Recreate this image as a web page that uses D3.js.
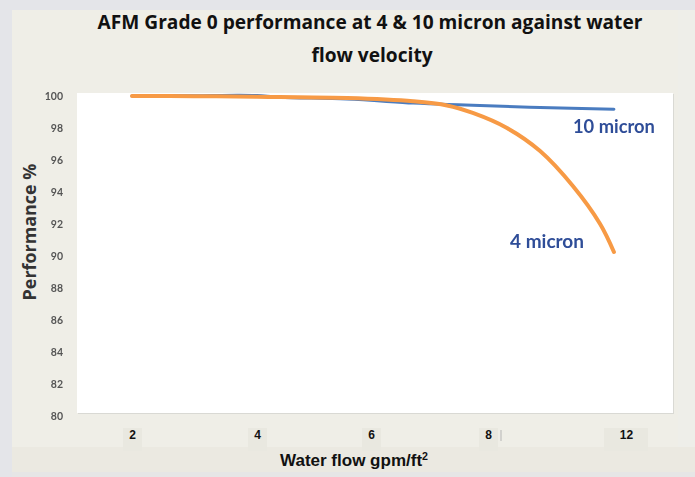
<!DOCTYPE html>
<html><head><meta charset="utf-8">
<script src="https://cdn.jsdelivr.net/npm/d3@7"></script>
<style>body{margin:0;background:#efeee7;} svg{display:block}</style>
</head><body><svg id="c" width="695" height="477"></svg>
<script>
// ---- data ----
const xTicks = [2, 4, 6, 8, 12];
const yTicks = [80, 82, 84, 86, 88, 90, 92, 94, 96, 98, 100];
const flow4  = [2, 3, 4, 4.4, 5.58, 6.72, 7.3, 7.74, 8.55, 9.51, 10.46, 11.25, 11.65];
const perf4  = [100, 99.99, 99.95, 99.93, 99.875, 99.67, 99.41, 98.94, 98.0, 96.56, 94.375, 92.0, 90.25];
const flow10 = [2, 3, 3.7, 4, 4.4, 5.58, 6.72, 7.3, 7.86, 9.51, 11.65];
const perf10 = [100, 100.02, 100.05, 100.03, 99.92, 99.81, 99.56, 99.47, 99.41, 99.28, 99.17];
const titleLines = ["AFM Grade 0 performance at 4 & 10 micron against water", "flow velocity"];
const seriesLabels = ["10 micron", "4 micron"];

const svg = d3.select("#c");
// background panels
svg.append("rect").attr("width",695).attr("height",477).attr("fill","#efeee7");
svg.append("rect").attr("x",0).attr("y",0).attr("width",695).attr("height",10).attr("fill","#e4e5e9");
svg.append("rect").attr("x",0).attr("y",0).attr("width",12).attr("height",477).attr("fill","#e4e5e9");
svg.append("rect").attr("x",12).attr("y",447).attr("width",683).attr("height",30).attr("fill","#ebe9e1");
svg.append("rect").attr("x",12).attr("y",472).attr("width",683).attr("height",5).attr("fill","#e6e6e6");
svg.append("rect").attr("x",678).attr("y",10).attr("width",17).attr("height",437).attr("fill","#eeeee9");

// plot area
const P = {l:77, t:93, r:673, b:413};
svg.append("rect").attr("x",P.l+1).attr("y",P.t+1).attr("width",P.r-P.l).attr("height",P.b-P.t).attr("fill","#d9d9d4");
svg.append("rect").attr("x",P.l).attr("y",P.t).attr("width",P.r-P.l).attr("height",P.b-P.t).attr("fill","#ffffff");

const x = d3.scaleLinear().domain(xTicks).range([132, 257, 371, 488, 626]);
const y = d3.scaleLinear().domain([80, 100]).range([416, 96]);

const defs = svg.append("defs");
defs.append("filter").attr("id","soft").append("feGaussianBlur").attr("stdDeviation",0.45);

// y axis
const ya = svg.append("g").attr("transform","translate(63,0)")
  .call(d3.axisLeft(y).tickValues(yTicks).tickSize(0).tickPadding(0));
ya.select(".domain").remove();
ya.selectAll("text").attr("font-family","Lato, 'Open Sans', sans-serif").attr("font-weight","bold")
  .attr("font-size",10.5).attr("fill","#555").attr("filter","url(#soft)");

// x axis tick label boxes
svg.append("g").selectAll("rect").data(xTicks).join("rect")
  .attr("x", d => x(d) - (d >= 10 ? 22 : 9)).attr("y", 428)
  .attr("width", d => d >= 10 ? 44 : 19).attr("height", 23).attr("fill","#e9e8e0");
const xa = svg.append("g").attr("transform","translate(0,430)")
  .call(d3.axisBottom(x).tickValues(xTicks).tickSize(0).tickPadding(0).tickFormat(d3.format("d")));
xa.select(".domain").remove();
xa.selectAll("text").attr("font-family","'Liberation Sans', Arial, sans-serif").attr("font-weight","bold")
  .attr("font-size",12).attr("fill","#111");
svg.append("line").attr("x1",501).attr("x2",501).attr("y1",430).attr("y2",441).attr("stroke","#b5b5b5").attr("stroke-width",1);

// lines
const line = d3.line().x(d => x(d[0])).y(d => y(d[1])).curve(d3.curveCatmullRom.alpha(0.5));
svg.append("path").datum(d3.zip(flow10, perf10)).attr("d", line)
  .attr("fill","none").attr("stroke","#4a7cc0").attr("stroke-width",3).attr("stroke-linecap","round");
svg.append("path").datum(d3.zip(flow4, perf4)).attr("d", line)
  .attr("fill","none").attr("stroke","#f79a45").attr("stroke-width",4).attr("stroke-linecap","round");

function fit(sel, w){ const n = sel.node(); const cur = n.getComputedTextLength(); const fs = +sel.attr("font-size"); sel.attr("font-size", fs*w/cur); }

// series labels
const lab = svg.append("g").attr("font-family","Lato, 'Open Sans', sans-serif").attr("fill","#2f4d98")
  .attr("font-weight","bold").attr("filter","url(#soft)");
const l1 = lab.append("text").attr("x",573).attr("y",133).attr("font-size",17).text(seriesLabels[0]);
fit(l1, 82);
const l2 = lab.append("text").attr("x",510).attr("y",248).attr("font-size",17).text(seriesLabels[1]);
fit(l2, 74);

// title
const t1 = svg.append("text").attr("x",370).attr("y",29).attr("text-anchor","middle")
  .attr("font-family","'Open Sans', sans-serif").attr("font-weight","bold").attr("font-size",16).attr("fill","#111").text(titleLines[0]);
fit(t1, 545);
const t2 = svg.append("text").attr("x",372).attr("y",62).attr("text-anchor","middle")
  .attr("font-family","'Open Sans', sans-serif").attr("font-weight","bold").attr("font-size",16).attr("fill","#111").text(titleLines[1]);
t2.attr("font-size", t1.attr("font-size"));

// axis titles
const yt = svg.append("text").attr("transform","translate(36,232) rotate(-90)").attr("text-anchor","middle")
  .attr("font-family","'Open Sans', sans-serif").attr("font-weight","bold").attr("font-size",14).attr("fill","#333").text("Performance %");
fit(yt, 137);
const xt = svg.append("text").attr("x",354).attr("y",466).attr("text-anchor","middle")
  .attr("font-family","'Liberation Sans', Arial, sans-serif").attr("font-weight","bold").attr("font-size",16).attr("fill","#111")
  .attr("textLength",148).attr("lengthAdjust","spacingAndGlyphs");
xt.append("tspan").text("Water flow gpm/ft");
xt.append("tspan").attr("font-size",10).attr("dy",-6).text("2");
</script></body></html>
